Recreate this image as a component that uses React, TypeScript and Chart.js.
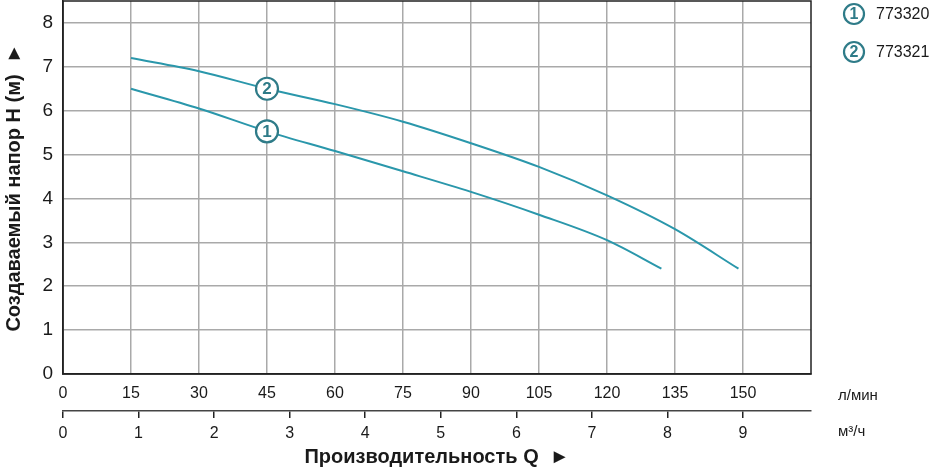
import React, { useEffect, useRef } from "react";
import { Chart, registerables } from "chart.js";

Chart.register(...registerables);

// Data (flow Q in л/мин, head H in м)
const Q1 = [15, 30, 45, 60, 75, 90, 105, 120, 132];
const H1 = [6.5, 6.05, 5.53, 5.08, 4.62, 4.15, 3.63, 3.05, 2.4];
const Q2 = [15, 30, 45, 60, 75, 90, 105, 120, 135, 149];
const H2 = [7.2, 6.9, 6.5, 6.15, 5.75, 5.26, 4.72, 4.07, 3.3, 2.4];
const SERIES_LABELS = ["773320", "773321"];
const SERIES_MARKS = ["1", "2"];
const MARK_AT_Q = 45;
const X_MAX = 165;
const X_STEP = 15;
const Y_MAX = 8.5;
const LPM_TO_M3H = 0.06;
const UNIT_LPM = "л/мин";
const UNIT_M3H = "м³/ч";
const X_TITLE = "Производительность Q  ►";
const Y_TITLE = "Создаваемый напор H (м)  ►";

const LINE_COLOR = "#2a97ab";
const MARK_COLOR = "#2e7b88";
const GRID_COLOR = "#a9a9a9";
const AXIS_COLOR = "#222222";
const TEXT_COLOR = "#1a1a1a";
const FONT = "'Liberation Sans', Arial, sans-serif";

function drawMark(ctx: CanvasRenderingContext2D, x: number, y: number, r: number, txt: string, size: number) {
  ctx.save();
  ctx.beginPath();
  ctx.arc(x, y, r, 0, Math.PI * 2);
  ctx.fillStyle = "#ffffff";
  ctx.fill();
  ctx.lineWidth = 2.2;
  ctx.strokeStyle = MARK_COLOR;
  ctx.stroke();
  ctx.fillStyle = MARK_COLOR;
  ctx.font = `bold ${size}px ${FONT}`;
  ctx.textAlign = "center";
  ctx.textBaseline = "middle";
  ctx.fillText(txt, x, y + 1);
  ctx.restore();
}

const extrasPlugin = {
  id: "extras",
  afterDatasetsDraw(chart: any) {
    const { ctx, chartArea } = chart;
    // frame
    ctx.save();
    ctx.strokeStyle = AXIS_COLOR;
    ctx.lineWidth = 1.5;
    ctx.strokeRect(chartArea.left, chartArea.top, chartArea.right - chartArea.left, chartArea.bottom - chartArea.top);
    ctx.restore();
    // curve markers
    chart.data.datasets.forEach((ds: any, i: number) => {
      const meta = chart.getDatasetMeta(i);
      const idx = ds.data.findIndex((p: any) => p.x === MARK_AT_Q);
      if (idx >= 0) {
        const el = meta.data[idx];
        drawMark(ctx, el.x, el.y, 11, SERIES_MARKS[i], 17);
      }
    });
  },
  afterDraw(chart: any) {
    const { ctx, chartArea, scales } = chart;
    // legend
    chart.data.datasets.forEach((ds: any, i: number) => {
      const cx = chartArea.right + 43;
      const cy = 14 + i * 38;
      drawMark(ctx, cx, cy, 10, SERIES_MARKS[i], 16);
      ctx.save();
      ctx.fillStyle = TEXT_COLOR;
      ctx.font = `16px ${FONT}`;
      ctx.textAlign = "left";
      ctx.textBaseline = "middle";
      ctx.fillText(ds.label, cx + 22, cy + 1);
      ctx.restore();
    });
    // unit labels
    ctx.save();
    ctx.fillStyle = TEXT_COLOR;
    ctx.font = `15px ${FONT}`;
    ctx.textAlign = "left";
    ctx.textBaseline = "middle";
    ctx.fillText(UNIT_LPM, chartArea.right + 27, scales.x.top + 22);
    ctx.fillText(UNIT_M3H, chartArea.right + 27, scales.x2.top + 21);
    ctx.restore();
  },
};

export default function App() {
  const ref = useRef<HTMLCanvasElement | null>(null);
  useEffect(() => {
    if (!ref.current) return;
    const chart = new Chart(ref.current, {
      type: "line",
      data: {
        datasets: [
          {
            label: SERIES_LABELS[0],
            data: Q1.map((q, i) => ({ x: q, y: H1[i] })),
            borderColor: LINE_COLOR,
            borderWidth: 2,
            pointRadius: 0,
            tension: 0.4,
            cubicInterpolationMode: "monotone",
            xAxisID: "x",
            yAxisID: "y",
          },
          {
            label: SERIES_LABELS[1],
            data: Q2.map((q, i) => ({ x: q, y: H2[i] })),
            borderColor: LINE_COLOR,
            borderWidth: 2,
            pointRadius: 0,
            tension: 0.4,
            cubicInterpolationMode: "monotone",
            xAxisID: "x",
            yAxisID: "y",
          },
        ],
      },
      options: {
        animation: false,
        responsive: true,
        maintainAspectRatio: false,
        layout: { autoPadding: false, padding: { left: 0, right: 932 - 811, top: 1, bottom: 0 } },
        plugins: { legend: { display: false }, tooltip: { enabled: false } },
        scales: {
          x: {
            type: "linear",
            position: "bottom",
            min: 0,
            max: X_MAX,
            afterBuildTicks: (s: any) => {
              s.ticks = s.ticks.filter((t: any) => t.value < X_MAX);
            },
            afterFit: (s: any) => {
              s.height = 37;
              s.paddingLeft = 0;
              s.paddingRight = 0;
            },
            ticks: {
              stepSize: X_STEP,
              padding: 10,
              color: TEXT_COLOR,
              font: { family: FONT, size: 16 },
              maxRotation: 0,
              autoSkip: false,
            },
            grid: { color: GRID_COLOR, lineWidth: 1.5, drawTicks: false },
            border: { display: true, color: AXIS_COLOR, width: 1.5 },
          },
          x2: {
            type: "linear",
            position: "bottom",
            min: 0,
            max: X_MAX * LPM_TO_M3H,
            afterFit: (s: any) => {
              s.height = 468 - 411;
              s.paddingLeft = 0;
              s.paddingRight = 0;
            },
            ticks: {
              stepSize: 1,
              includeBounds: false,
              padding: 6,
              color: TEXT_COLOR,
              font: { family: FONT, size: 16 },
              maxRotation: 0,
              autoSkip: false,
            },
            grid: { drawOnChartArea: false, drawTicks: true, tickLength: 7, color: AXIS_COLOR, lineWidth: 1.5 },
            border: { display: true, color: "#444444", width: 1.5 },
            title: {
              display: true,
              text: X_TITLE,
              color: TEXT_COLOR,
              font: { family: FONT, size: 20, weight: "bold", lineHeight: 1.1 },
              padding: { top: 0, bottom: 0 },
            },
          },
          y: {
            type: "linear",
            position: "left",
            min: 0,
            max: Y_MAX,
            afterFit: (s: any) => {
              s.width = 63;
              s.paddingTop = 0;
              s.paddingBottom = 0;
            },
            ticks: {
              stepSize: 1,
              includeBounds: false,
              padding: 10,
              color: TEXT_COLOR,
              font: { family: FONT, size: 19 },
            },
            grid: { color: GRID_COLOR, lineWidth: 1.5, drawTicks: false },
            border: { display: true, color: AXIS_COLOR, width: 1.5 },
            title: {
              display: true,
              text: Y_TITLE,
              color: TEXT_COLOR,
              font: { family: FONT, size: 20, weight: "bold", lineHeight: 1.1 },
              padding: { top: 3, bottom: 0 },
            },
          },
        },
      } as any,
      plugins: [extrasPlugin],
    });
    return () => chart.destroy();
  }, []);
  return (
    <div style={{ position: "fixed", left: 0, top: 0, width: 932, height: 468, background: "#ffffff" }}>
      <canvas ref={ref} />
    </div>
  );
}
